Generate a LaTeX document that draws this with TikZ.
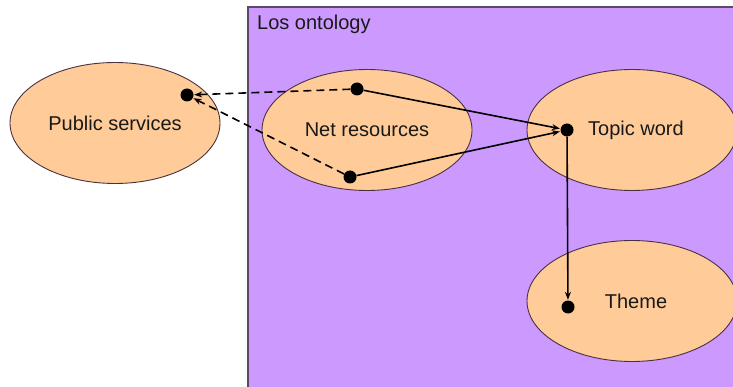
\documentclass[tikz,border=0pt]{standalone}
\usepackage{fontspec}
\setmainfont{Liberation Sans}
\usetikzlibrary{arrows.meta, positioning, shapes.geometric}
\definecolor{lilac}{HTML}{CC99FF}
\definecolor{peach}{HTML}{FFCC99}
\definecolor{frame}{HTML}{5A4A66}
\definecolor{rim}{HTML}{4A3040}

\begin{document}
\begin{tikzpicture}[x=1pt,y=-1pt,>={Stealth[length=8pt,width=6pt]},
      font=\fontsize{20}{23}\selectfont,
      concept/.style={ellipse,draw=rim,fill=peach,line width=0.9pt,
        minimum width=210pt,minimum height=121pt,inner sep=0pt,text=black!90},
      dot/.style={circle,fill=black,minimum size=13pt,inner sep=0pt},
      link/.style={line width=1.6pt,shorten >=0.5pt},
      dashlink/.style={link,dash pattern=on 8pt off 5pt}]
      \useasboundingbox (0,0) rectangle (733,387);
      \clip (0,0) rectangle (733,387);
      % ontology frame
      \draw[frame,fill=lilac,line width=2pt] (248,7) rectangle (745,400);
      \node[anchor=base west,inner sep=0pt,text=black!90] (title) at (257,30) {Los ontology};
      % concepts
      \node[concept] (public) at (115,123) {Public services};
      \node[concept] (net) at (367,130) {Net resources};
      \node[concept] (topic) at (632,130) {\hspace{8pt}Topic word};
      \node[concept] (theme) at (632,301) {\hspace{8pt}Theme};
      % anchor points
      \node[dot] (p1) at (187,95) {};
      \node[dot] (n1) at (357,89) {};
      \node[dot] (n2) at (350,177) {};
      \node[dot] (t1) at (567,130) {};
      \node[dot] (t2) at (568,307) {};
      \path[->]
      (n1) edge [dashlink] (p1)
      (n2) edge [dashlink] (p1)
      (n1) edge [link] (t1)
      (n2) edge [link] (t1)
      (t1) edge [link] (t2);
    \end{tikzpicture}
\end{document}
